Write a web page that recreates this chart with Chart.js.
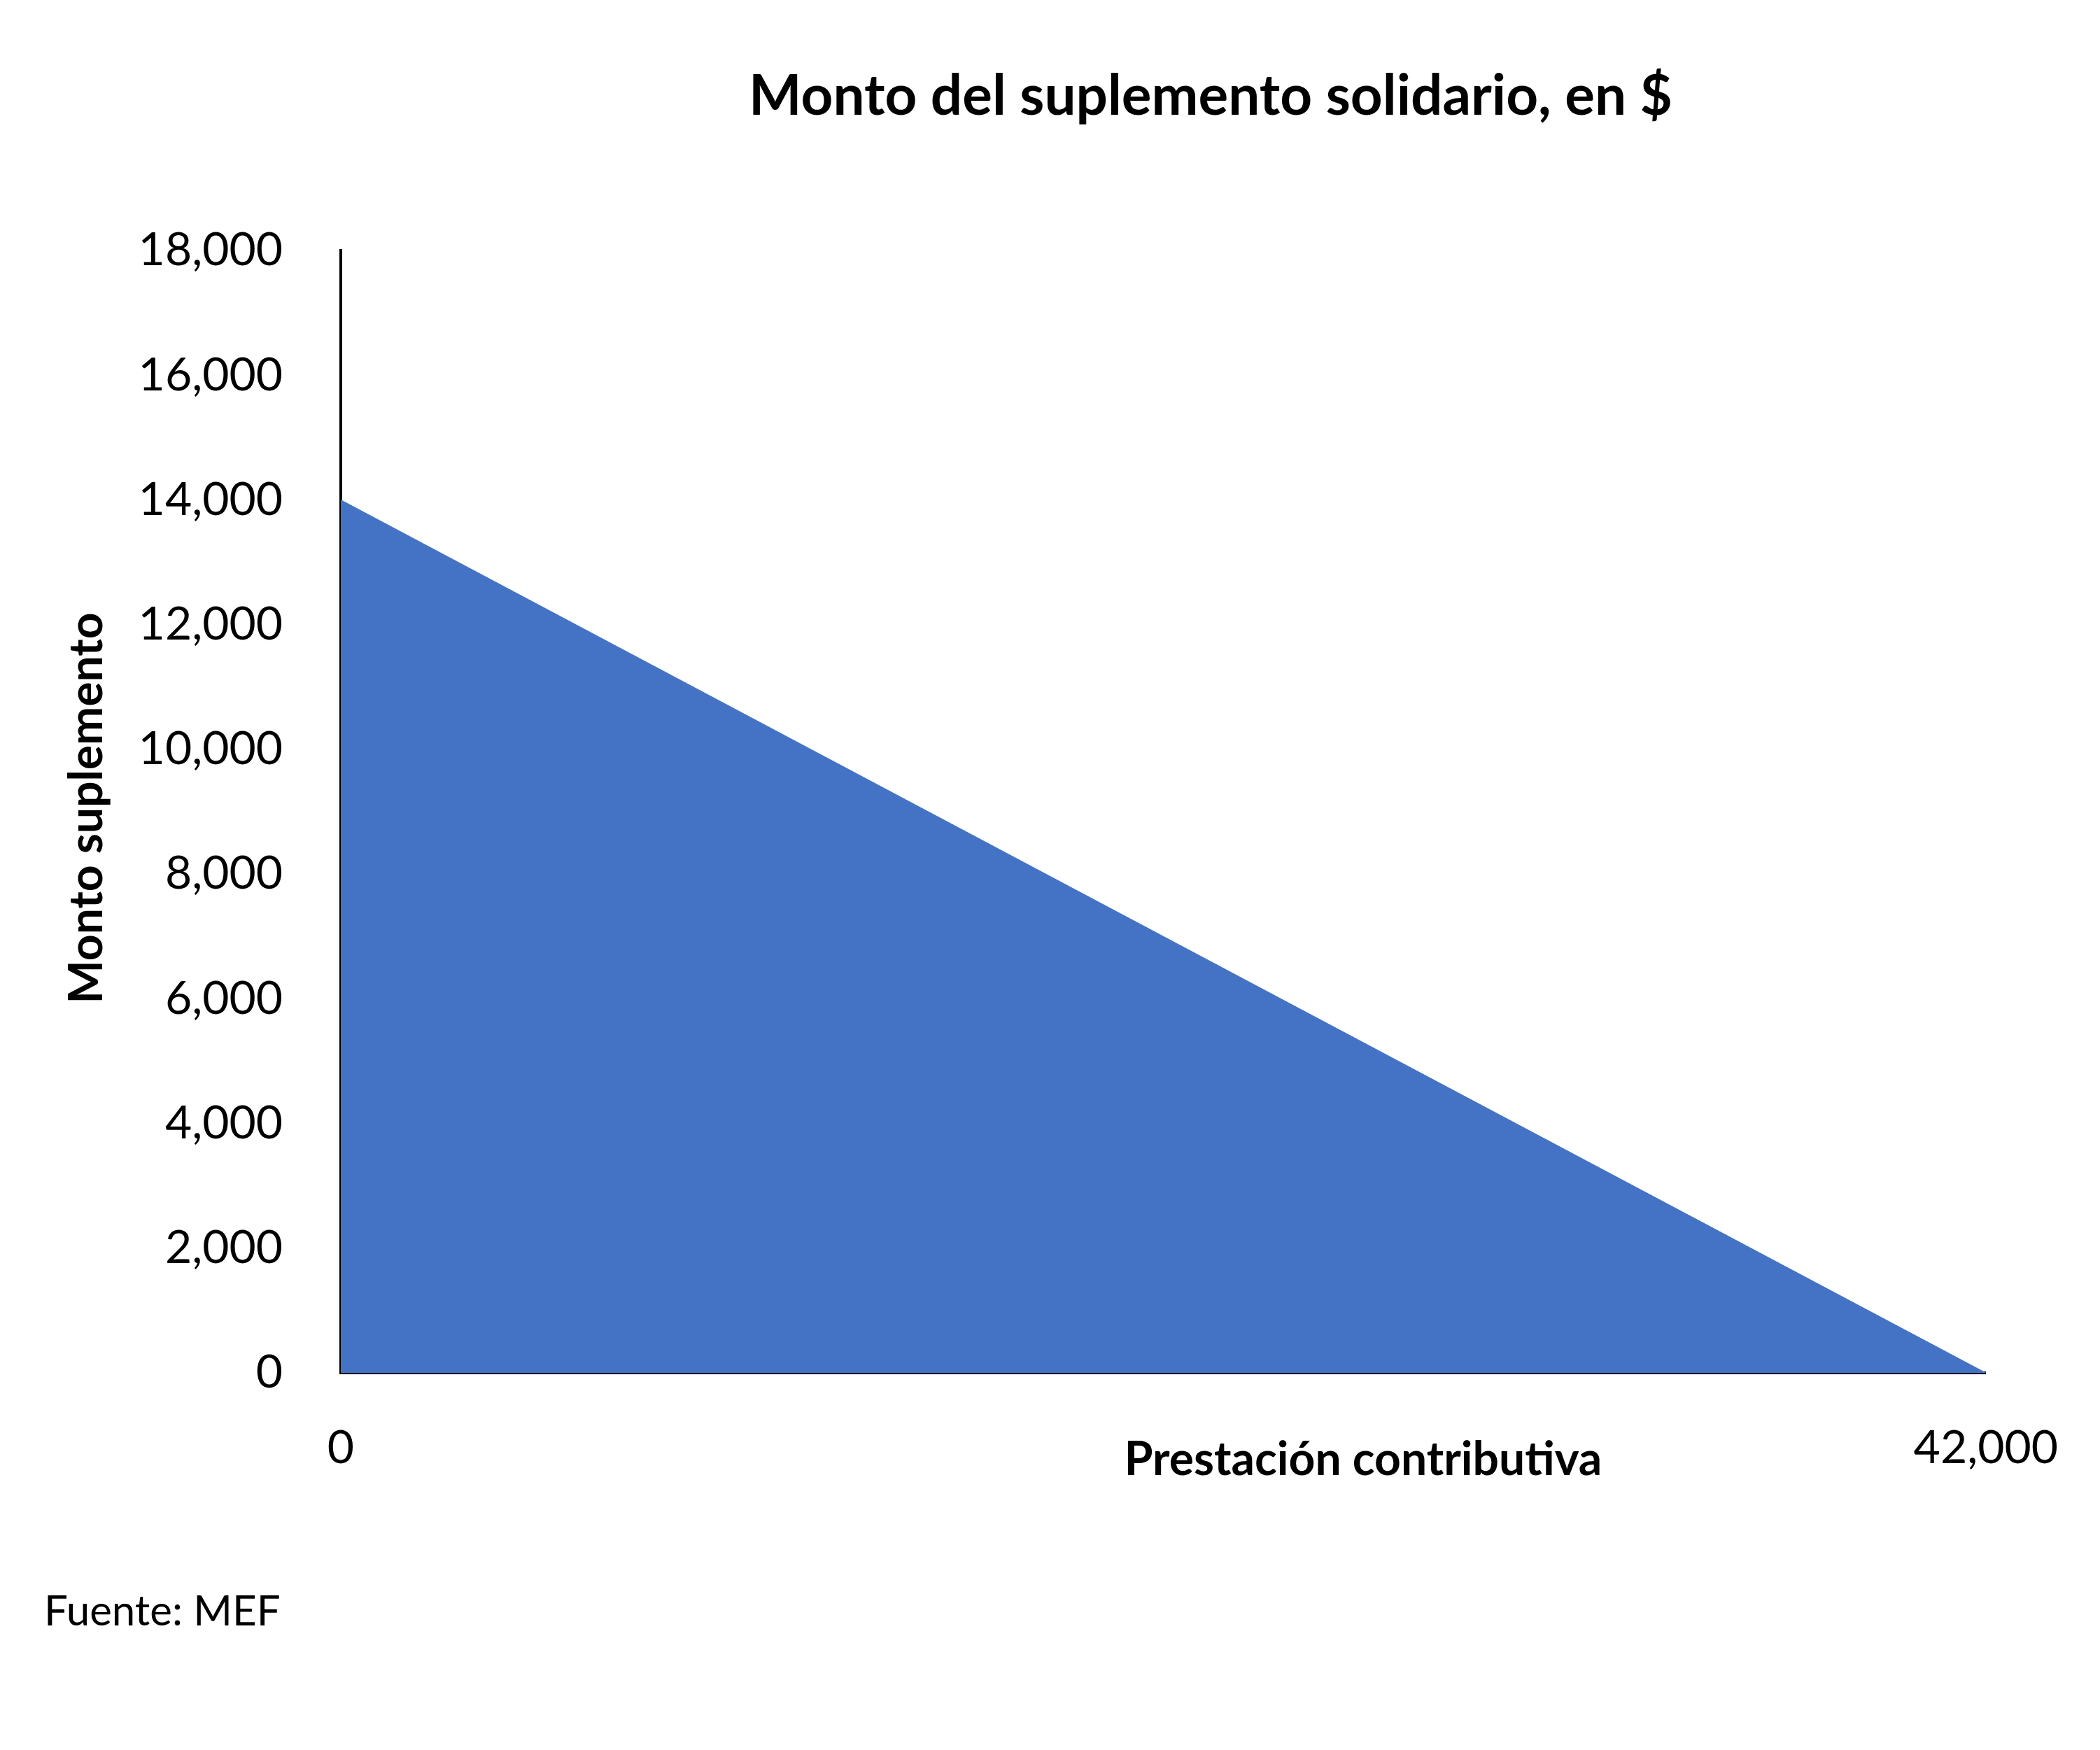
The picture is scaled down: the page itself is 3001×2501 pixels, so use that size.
<!DOCTYPE html>
<html><head><meta charset="utf-8">
<script src="https://cdn.jsdelivr.net/npm/chart.js@4"></script>
<style>body{margin:0;background:#fff}#w{width:3001px;height:2501px}</style>
</head><body><div id="w"><canvas id="c"></canvas></div>
<script>
const xValues=[0,42000];
const yValues=[14000,0];
const xTicks=[0,42000];
const titleText='Monto del suplemento solidario, en $';
const xTitle='Prestación contributiva';
const yTitle='Monto suplemento';
const source='Fuente: MEF';
const F='Lato, "Open Sans", sans-serif';
const textPlugin={id:'txt',afterDraw(ch){const c=ch.ctx;c.save();c.fillStyle='#000';
c.textAlign='center';c.textBaseline='middle';
c.font='bold 80px '+F;c.fillText(titleText,1730,138);
c.font='bold 66px '+F;c.fillText(xTitle,1948,2087);
c.save();c.translate(125,1155);c.rotate(-Math.PI/2);c.fillText(yTitle,0,0);c.restore();
c.textAlign='left';c.font='60px '+F;c.fillText(source,63,2304);
c.restore();}};
new Chart(document.getElementById('c'),{type:'line',
data:{datasets:[{data:xValues.map((x,i)=>({x,y:yValues[i]})),fill:'origin',backgroundColor:'#4472C4',borderColor:'#4472C4',borderWidth:1,pointRadius:0,tension:0}]},
options:{responsive:true,maintainAspectRatio:false,animation:false,
layout:{padding:{top:358,right:145,left:0,bottom:0}},
plugins:{legend:{display:false},tooltip:{enabled:false}},
scales:{
x:{type:'linear',min:0,max:42000,afterFit(s){s.height=539;},
afterBuildTicks(s){s.ticks=xTicks.map(v=>({value:v}));},
grid:{display:false},border:{display:true,color:'#000',width:4},
ticks:{padding:60,color:'#000',font:{size:66,family:F},maxRotation:0,autoSkip:false}},
y:{min:0,max:18000,afterFit(s){s.width=487;},
grid:{display:false},border:{display:true,color:'#000',width:4},
ticks:{stepSize:2000,padding:75,color:'#000',font:{size:66,family:F}}}}},
plugins:[textPlugin]});
</script></body></html>
